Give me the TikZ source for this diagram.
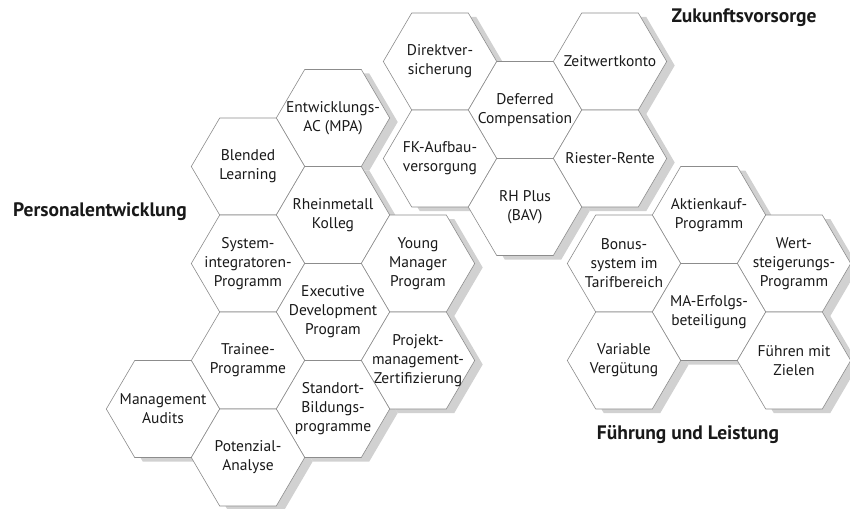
\documentclass[tikz,border=0pt]{standalone}
\usepackage{fontspec}
\setmainfont{PT Sans}

% one honeycomb cell round the current point
\newcommand\hexcell{+(56.7,0) -- +(28.3,48.5) -- +(-28.3,48.5) -- +(-56.7,0)
  -- +(-28.3,-48.5) -- +(28.3,-48.5) -- cycle}

\begin{document}
\begin{tikzpicture}[x=1pt,y=-1pt,
  hexshade/.style={fill=black!18},
  hexa/.style={draw=black!45,line width=.6pt,fill=white},
  celltext/.style={align=center,inner sep=0pt,text=black!90,
    font=\fontsize{15.5}{19}\selectfont},
  head/.style={text=black!90,font=\fontsize{19.5}{22}\selectfont\bfseries}]
\useasboundingbox (0,0) rectangle (850,508);

\def\hexes{%
  eac/333/118/{Entwicklungs-\\AC (MPA)},
  bl/248/166.5/{Blended\\Learning},
  rk/333/215/{Rheinmetall\\Kolleg},
  si/248/263.5/{System-\\integratoren-\\Programm},
  ym/418/263.5/{Young\\Manager\\Program},
  edp/333/312/{Executive\\Development\\Program},
  tp/248/360.5/{Trainee-\\Programme},
  pz/418/360.5/{Projekt-\\management-\\Zertifizierung},
  sb/333/409/{Standort-\\Bildungs-\\programme},
  ma/163/409/{Management\\Audits},
  pa/248/457.5/{Potenzial-\\Analyse},
  dv/440/61.5/{Direktver-\\sicherung},
  zk/610/61.5/{Zeitwertkonto},
  dc/525/110/{Deferred\\Compensation},
  fk/440/158.5/{FK-Aufbau-\\versorgung},
  rr/610/158.5/{Riester-Rente},
  rh/525/207/{RH Plus\\(BAV)},
  ak/709/215/{Aktienkauf-\\Programm},
  bs/624/263.5/{Bonus-\\system im\\Tarifbereich},
  ws/794/263.5/{Wert-\\steigerungs-\\Programm},
  me/709/312/{MA-Erfolgs-\\beteiligung},
  vv/624/360.5/{Variable\\Vergütung},
  fz/794/360.5/{Führen mit\\Zielen}}

% shadows first, then the cells on top
\foreach \n/\x/\y/\t in \hexes
  \fill[hexshade] (\x+8,\y+4) \hexcell;
\foreach \n/\x/\y/\t in \hexes{
  \draw[hexa] (\x,\y) \hexcell;
  \node[celltext] (\n) at (\x,\y) {\t};
}

\node[head] (pe) at (100,212) {Personalentwicklung};
\node[head] (zv) at (744,18) {Zukunftsvorsorge};
\node[head] (fl) at (688,435) {Führung und Leistung};

\end{tikzpicture}
\end{document}
